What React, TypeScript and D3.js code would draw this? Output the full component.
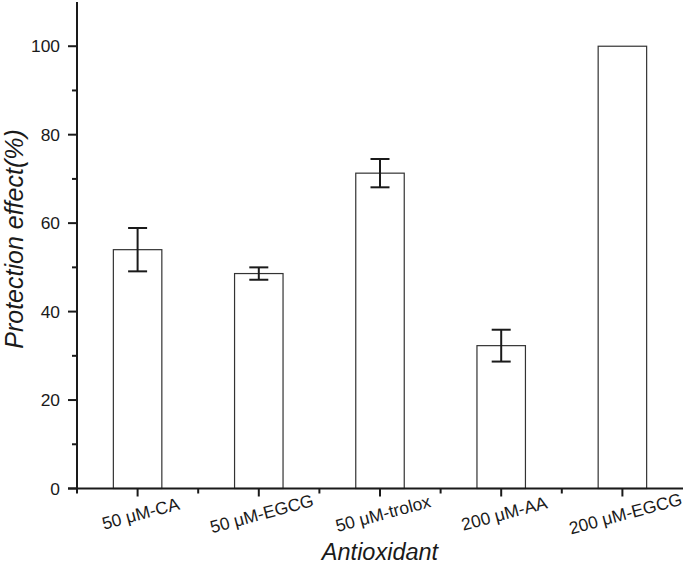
import * as d3 from "d3";
import React, { useEffect, useRef } from "react";

const categories = ["50 μM-CA", "50 μM-EGCG", "50 μM-trolox", "200 μM-AA", "200 μM-EGCG"];
const means = [54, 48.6, 71.3, 32.3, 100];
const errors = [4.9, 1.4, 3.2, 3.6, 0];
const yTicks = [0, 20, 40, 60, 80, 100];
const yMinorTicks = [10, 30, 50, 70, 90];

const width = 685;
const height = 564;
const margin = { top: 2, right: 2, bottom: 75.5, left: 77 };

export default function App() {
  const svgRef = useRef<SVGSVGElement>(null);

  useEffect(() => {
    const svg = d3.select(svgRef.current);
    svg.selectAll("*").remove();

    const innerWidth = width - margin.left - margin.right;
    const innerHeight = height - margin.top - margin.bottom;

    // scales
    const xScale = d3.scaleBand().domain(categories).range([0, innerWidth]).padding(0);
    const yScale = d3.scaleLinear().domain([0, 110]).range([innerHeight, 0]);

    const g = svg.append("g").attr("transform", `translate(${margin.left}, ${margin.top})`);
    const font = "Arial, 'Liberation Sans', sans-serif";
    const ink = "#1a1a1a";

    // bars
    const barW = xScale.bandwidth() * 0.4;
    g.selectAll("rect.bar")
      .data(categories)
      .join("rect")
      .attr("class", "bar")
      .attr("x", (d) => xScale(d)! + xScale.bandwidth() / 2 - barW / 2)
      .attr("y", (d, i) => yScale(means[i]))
      .attr("width", barW)
      .attr("height", (d, i) => innerHeight - yScale(means[i]))
      .attr("fill", "white")
      .attr("stroke", "#333")
      .attr("stroke-width", 1.2);

    // error bars
    const capW = 19;
    categories.forEach((c, i) => {
      if (!errors[i]) return;
      const cx = xScale(c)! + xScale.bandwidth() / 2;
      const hi = yScale(means[i] + errors[i]);
      const lo = yScale(means[i] - errors[i]);
      const eg = g.append("g").attr("stroke", ink).attr("stroke-width", 2);
      eg.append("line").attr("x1", cx).attr("x2", cx).attr("y1", hi).attr("y2", lo);
      eg.append("line").attr("x1", cx - capW / 2).attr("x2", cx + capW / 2).attr("y1", hi).attr("y2", hi);
      eg.append("line").attr("x1", cx - capW / 2).attr("x2", cx + capW / 2).attr("y1", lo).attr("y2", lo);
    });

    // y axis
    const yAxisG = g.append("g");
    yAxisG.append("line").attr("x1", 0).attr("x2", 0).attr("y1", 0).attr("y2", innerHeight)
      .attr("stroke", ink).attr("stroke-width", 2);
    yAxisG.selectAll("line.major").data(yTicks).join("line").attr("class", "major")
      .attr("x1", -9).attr("x2", 0).attr("y1", (d) => yScale(d)).attr("y2", (d) => yScale(d))
      .attr("stroke", ink).attr("stroke-width", 2);
    yAxisG.selectAll("line.minor").data(yMinorTicks).join("line").attr("class", "minor")
      .attr("x1", -5).attr("x2", 0).attr("y1", (d) => yScale(d)).attr("y2", (d) => yScale(d))
      .attr("stroke", ink).attr("stroke-width", 2);
    yAxisG.selectAll("text").data(yTicks).join("text")
      .attr("x", -17).attr("y", (d) => yScale(d)).attr("dy", "0.35em")
      .attr("text-anchor", "end").attr("font-family", font).attr("font-size", 17.4).attr("fill", ink)
      .text((d) => d);

    // x axis
    const xAxisG = g.append("g").attr("transform", `translate(0, ${innerHeight})`);
    xAxisG.append("line").attr("x1", -9).attr("x2", innerWidth).attr("stroke", ink).attr("stroke-width", 2);
    xAxisG.selectAll("line.major").data(categories).join("line").attr("class", "major")
      .attr("x1", (d) => xScale(d)! + xScale.bandwidth() / 2).attr("x2", (d) => xScale(d)! + xScale.bandwidth() / 2)
      .attr("y1", 0).attr("y2", 8).attr("stroke", ink).attr("stroke-width", 2);
    xAxisG.selectAll("line.minor").data(categories).join("line").attr("class", "minor")
      .attr("x1", (d) => xScale(d)!).attr("x2", (d) => xScale(d)!)
      .attr("y1", 0).attr("y2", 5).attr("stroke", ink).attr("stroke-width", 2);
    xAxisG.selectAll("text").data(categories).join("text")
      .attr("transform", (d) => `translate(${xScale(d)! + xScale.bandwidth() / 2 + 3}, 25) rotate(-15)`)
      .attr("dy", "0.35em")
      .attr("text-anchor", "middle").attr("font-family", font).attr("font-size", 17.5).attr("fill", ink)
      .text((d) => d);

    // axis titles
    g.append("text")
      .attr("x", innerWidth / 2).attr("y", innerHeight + 71)
      .attr("text-anchor", "middle").attr("font-family", font).attr("font-style", "italic")
      .attr("font-size", 23.5).attr("fill", ink).text("Antioxidant");
    g.append("text")
      .attr("transform", `translate(${-54}, ${237}) rotate(-90)`)
      .attr("text-anchor", "middle").attr("font-family", font).attr("font-style", "italic")
      .attr("font-size", 25).attr("fill", ink).text("Protection effect(%)");
  }, []);

  return (
    <div style={{ position: "absolute", left: 0, top: 0, background: "white" }}>
      <svg ref={svgRef} width={width} height={height}></svg>
    </div>
  );
}
